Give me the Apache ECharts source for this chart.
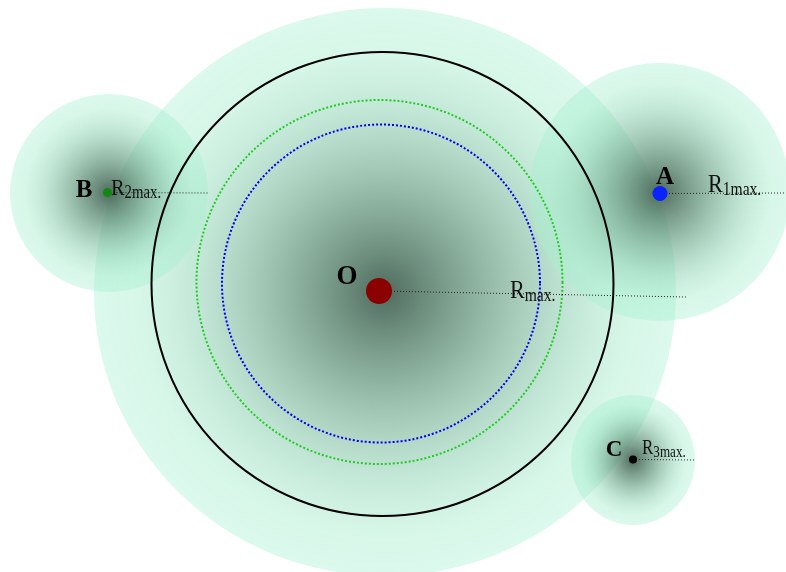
<!DOCTYPE html>
<html><head><meta charset="utf-8">
<script src="https://cdn.jsdelivr.net/npm/echarts@6/dist/echarts.min.js"></script>
<style>html,body{margin:0;padding:0;background:#fff}#c{width:786px;height:572px}</style>
</head><body><div id="c"></div>
<script>
// Shaded influence zones (centre, radii) in diagram units
const zoneNames = ['O', 'A', 'B', 'C'];
const zoneX = [385, 660, 109, 633];
const zoneY = [292, 192, 193, 460];
const zoneRx = [291, 130, 99, 62];
const zoneRy = [284, 129, 99, 65];

// Rings around O
const ringNames = ['outer', 'green', 'blue'];
const ringX = [382.5, 379.5, 381];
const ringY = [284, 282, 283.5];
const ringRx = [231, 183, 159];
const ringRy = [232, 182, 159];

// Points
const pointNames = ['O', 'A', 'B', 'C'];
const pointX = [379, 660, 107.5, 633];
const pointY = [291, 193.5, 192.5, 459.5];
const pointSize = [13, 7.5, 4.5, 4];

// Guide (radius) lines: end points
const guideEndX = [686, 786, 208, 695];
const guideEndY = [297, 193, 193, 460];

// Labels
const letterX = [347, 665, 84, 614];
const letterY = [277.5, 177.5, 191, 450.5];
const radiusSub = ['max.', '1max.', '2max.', '3max.'];
const radiusLabelX = [510, 708, 111, 642];
const radiusLabelY = [291, 185, 188.5, 449];

const pointColors = ['#8b0000', '#0a22ff', '#118811', '#000000'];
const ringColors = ['#000000', '#1fcc1f', '#0000ee'];
const ringDash = ['solid', [2, 2], [2, 2]];
const rFont = [26, 26, 24, 20];
const subFont = [19, 19, 18, 16];

const chart = echarts.init(document.getElementById('c'), null, {renderer: 'canvas'});

function zoneFill() {
  return {
    type: 'radial', x: 0.5, y: 0.5, r: 0.5,
    colorStops: [
      {offset: 0, color: 'rgba(60,90,75,0.9)'},
      {offset: 0.3, color: 'rgba(95,145,120,0.72)'},
      {offset: 0.65, color: 'rgba(140,210,178,0.52)'},
      {offset: 0.85, color: 'rgba(160,236,202,0.42)'},
      {offset: 1, color: 'rgba(165,240,208,0.4)'}
    ]
  };
}

const option = {
  animation: false,
  grid: {left: 0, right: 0, top: 0, bottom: 0},
  xAxis: {type: 'value', min: 0, max: 786, show: false},
  yAxis: {type: 'value', min: 0, max: 572, inverse: true, show: false},
  series: [
    {
      type: 'custom', name: 'zones', z: 1,
      data: zoneNames.map((n, i) => [zoneX[i], zoneY[i], zoneRx[i], zoneRy[i]]),
      renderItem: function (params, api) {
        const c = api.coord([api.value(0), api.value(1)]);
        const s = api.size([api.value(2), api.value(3)]);
        return {
          type: 'circle', x: c[0], y: c[1], scaleY: s[1] / s[0],
          shape: {cx: 0, cy: 0, r: s[0]},
          style: {fill: zoneFill()}
        };
      }
    },
    {
      type: 'custom', name: 'rings', z: 2,
      data: ringNames.map((n, i) => [ringX[i], ringY[i], ringRx[i], ringRy[i], i]),
      renderItem: function (params, api) {
        const i = api.value(4);
        const c = api.coord([api.value(0), api.value(1)]);
        const s = api.size([api.value(2), api.value(3)]);
        return {
          type: 'circle', x: c[0], y: c[1], scaleY: s[1] / s[0],
          shape: {cx: 0, cy: 0, r: s[0]},
          style: {fill: 'none', stroke: ringColors[i], lineWidth: 2, lineDash: ringDash[i], strokeNoScale: true}
        };
      }
    },
    {
      type: 'custom', name: 'guides', z: 3,
      data: pointNames.map((n, i) => [pointX[i], pointY[i], guideEndX[i], guideEndY[i]]),
      renderItem: function (params, api) {
        const a = api.coord([api.value(0), api.value(1)]);
        const b = api.coord([api.value(2), api.value(3)]);
        return {
          type: 'line', shape: {x1: a[0], y1: a[1], x2: b[0], y2: b[1]},
          style: {stroke: '#222', lineWidth: 1, lineDash: [1, 2]}
        };
      }
    },
    {
      type: 'custom', name: 'points', z: 4,
      data: pointNames.map((n, i) => [pointX[i], pointY[i], pointSize[i], i]),
      renderItem: function (params, api) {
        const i = api.value(3);
        const c = api.coord([api.value(0), api.value(1)]);
        const r = api.size([api.value(2), 0])[0];
        return {
          type: 'circle', shape: {cx: c[0], cy: c[1], r: r},
          style: {fill: pointColors[i]}
        };
      }
    },
    {
      type: 'custom', name: 'letters', z: 5,
      data: pointNames.map((n, i) => [letterX[i], letterY[i], i]),
      renderItem: function (params, api) {
        const i = api.value(2);
        const c = api.coord([api.value(0), api.value(1)]);
        const sz = [27, 25, 25, 23][i];
        return {
          type: 'text', x: c[0], y: c[1],
          style: {text: pointNames[i], fill: '#000', font: 'bold ' + sz + 'px "Liberation Serif"', align: 'center', verticalAlign: 'middle'}
        };
      }
    },
    {
      type: 'custom', name: 'radiusLabels', z: 5,
      data: pointNames.map((n, i) => [radiusLabelX[i], radiusLabelY[i], i]),
      renderItem: function (params, api) {
        const i = api.value(2);
        const c = api.coord([api.value(0), api.value(1)]);
        const rw = rFont[i] * 0.667 * 0.85;
        return {
          type: 'group', x: c[0], y: c[1],
          children: [
            {type: 'text', x: 0, y: 0, scaleX: 0.85, style: {text: 'R', fill: '#111', font: rFont[i] + 'px "Liberation Serif"', align: 'left', verticalAlign: 'middle'}},
            {type: 'text', x: rw, y: rFont[i] * 0.2, scaleX: 0.82, style: {text: radiusSub[i], fill: '#111', font: subFont[i] + 'px "Liberation Serif"', align: 'left', verticalAlign: 'middle'}}
          ]
        };
      }
    }
  ]
};
chart.setOption(option);
</script>
</body></html>
